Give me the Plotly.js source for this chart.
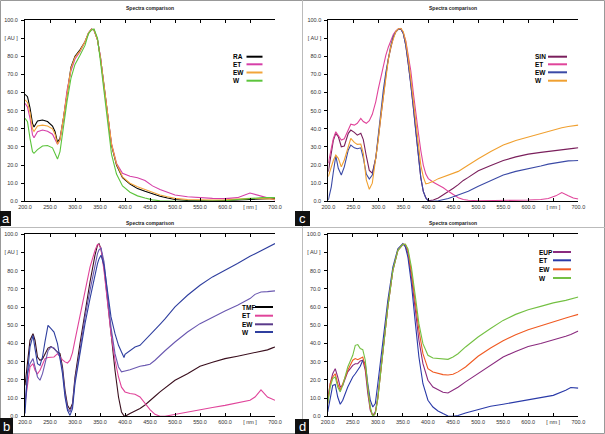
<!DOCTYPE html>
<html><head><meta charset="utf-8">
<script src="https://cdn.plot.ly/plotly-3.0.1.min.js"></script>
<style>html,body{margin:0;padding:0;background:#fff}#chart{width:605px;height:434px}</style>
</head><body><div id="chart"></div>
<script>
// ---------- data ----------
const aX=[200,205,210,215,218,225,235,245,255,260,265,270,277,284,292,300,310,320,327,333,338,345,351,358,365,373,383,395,410,425,440,455,470,485,500,525,550,575,600,625,650,675,700];
const aRA=[59,57.7,51.5,43,41,44.3,44.8,44,41.5,38.5,32.5,34.7,46,58,74,80,83.5,88,92.7,95,94.5,89,79,64,47.5,31,20,13,9.5,7,5.5,4,2.8,1.8,1,0.4,0.2,0.2,0.4,0.8,1.2,1.4,1.6];
const aET=[54,52,45.8,36.6,35.1,38.4,39.3,38.6,37,34,31.5,33.8,45.8,61,72,78.5,82.5,88,93,95,94.5,89,79.6,63,47,32,21,15.5,13.8,13,11.5,8.5,6.5,4.8,3.5,2.5,2,1.6,1.5,2,4.6,2.5,0.8];
const aEW=[56,54.5,49,40,38.5,41.5,42,41.5,40,37,31.5,34,46,60,73.5,79.5,83,88,92.8,95,94.5,89,79,64,47.5,31.5,20.5,13.5,10,8,6.5,5,3.5,2.5,1.6,1,0.7,0.7,0.8,1.2,1.6,1.5,1.2];
const aW=[45.8,43.9,34.7,27.4,26.5,28.5,30.5,30.8,29.5,26.5,23.3,27.4,42,55,68,75.5,80.5,86,92.5,94.5,95,90,77,60,43.5,26,15,8.5,5,3,1.8,0.8,0.3,0,0,0,0,0,0.3,1,1.5,2,2];

const cX=[200,206,210,215,220,226,232,240,245,252,258,265,270,276,282,288,295,300,305,310,315,320,325,330,335,340,345,350,355,360,365,370,375,380,385,390,395,400,410,420,430,440,450,460,470,480,500,525,550,575,600,625,640,655,667,680,690,700];
const cSIN=[16.4,28.3,33.5,37.5,35.7,30.1,30.5,37.5,39.3,38,36.5,37.5,34,25,17,15.5,24,35,47,58.5,69,78.5,85,90.5,93.5,95,95.2,92.6,86,76,65,52,39,25,13,5.5,2,0.3,0.7,1.8,3.5,5.2,7.2,9.2,11.5,13.2,16.8,19.8,22.5,24.5,26,27,27.6,28.1,28.5,28.9,29.2,29.5];
const cET=[21,30,34.5,38.4,36,33.8,34.5,40,42.5,42,43,45.7,44,43,44.5,48,55,62,68.5,75,80.5,85,89,92,94,95,95.2,93,88.5,81,72,60,48,38,28,20,15,12.5,10.5,9,7.5,5.5,3.5,2,1,0.6,0.3,0.3,0.4,0.5,0.7,1,1.5,3,4.8,3,1.8,1.3];
const cEW=[0.7,8,16,25,18.2,14.5,19,28.3,31,29.5,29,29.5,24,15,12.3,14.5,24,37.5,49.5,61.4,71,79.8,86,90.8,93.5,94.9,95,92.5,86,76,65,52,38.5,25,13,5.5,1.8,0.2,0,0.3,0.8,1.5,2.5,3.5,4.5,5.5,8.3,11.5,14.5,16.5,18.2,19.5,20.5,21.3,22,22.3,22.4,22.5];
const cW=[13.6,19.5,22.5,25.5,23.7,19,22.8,30.1,34.7,32.5,31.4,31.6,26.5,11.8,6.6,10,22.8,34,46.7,58,68.8,78,85.3,90,93.6,95,95.4,93.5,88,79,68.8,56,44,30.1,20,13.5,9.6,10,11,12.5,13.5,14.5,15.5,16.5,18.2,20,23.5,27.5,31,33.5,35.5,37.5,38.7,39.8,40.6,41.3,41.7,42];

const bX=[200,205,210,216,220,225,230,235,240,246,252,258,265,270,275,280,285,290,295,300,310,320,330,340,345,348,352,358,365,372,380,387,393,398,400,410,420,430,440,450,460,470,480,500,525,550,575,600,625,650,660,672,685,695,700];
const bTMF=[17,30.8,41.8,45.4,41.8,32.6,30.8,31.5,34,37.5,38.3,37.2,35.3,34.4,27.1,14.3,6,3.7,7,21.6,39.9,58.2,73.8,88.5,94,94.8,92,82,63.7,45.4,25.3,10.6,2.4,0.3,0,1.5,2.7,4.3,6.2,8.8,11,13.4,15.6,19.8,23.4,27.5,29.7,31.7,33,34.4,35,35.6,36.5,37.6,38.1];
const bET=[7,17.9,27.1,28.9,25.3,23.4,25.3,28.5,31.7,32.3,32.6,32.6,34.4,32.6,31,29.9,29.3,30.8,35,41.8,54.6,69.2,82,91.2,94.5,94.3,92,80,63.7,45.4,30.8,21.6,16,14,13.4,12.5,12.1,10.6,7,3.7,1.1,0,0,1.1,2.4,3.7,4.8,6,7.3,8.8,10.6,14.5,10.6,9.2,8.8];
const bEW=[7,23.4,28.9,31.7,27.1,21.6,19.8,23.4,29,36,38.1,37.5,35,32.6,25.3,12.5,4.2,2.4,6,19.8,36.3,54.6,69.2,83.9,89.4,91.5,92.5,85,67.4,49,34.4,27.1,24.4,24.5,24.9,25.6,26.7,27.5,28,28.6,30.8,33.5,36,40.8,46.3,50.9,54.6,57.9,61,64.7,67,68.3,68.5,68.8,68.9];
const bW=[1.5,23.4,38.1,44.5,37.2,28.9,28,32.6,41,50,48.2,46.3,39.9,32.6,23.4,10.6,3.3,0.5,4.2,17.9,34.4,50.9,64.7,78.4,83.9,86.5,88.5,83,69.2,54.6,45.4,39,35.3,32.3,34,36.3,38.1,39,41.8,44.5,47.3,50.5,53.5,60.1,66.5,72,76.6,80.2,83.9,87.9,89.3,91,93,94.3,94.9];

const dX=[200,205,210,215,220,225,230,240,250,255,260,265,270,275,280,285,290,295,300,310,320,330,340,350,355,360,367,375,382,390,400,410,420,430,440,450,460,475,500,525,550,575,600,625,650,675,685,700];
const dEUP=[9.7,17.9,23.4,26.2,21.6,16.1,17,24.4,28,28.9,28.9,30.4,30.8,25.3,12.5,3.3,0.4,2.4,10.6,34.4,60.1,80.2,91.2,94.5,94,89.4,76.6,58.2,41.8,28.9,19.8,16.1,14.7,13.2,12.8,14.2,16,18.9,23.4,28,32.6,35.6,38.3,40,41.8,44,45,46.8];
const dET=[2.4,10.6,17,17.5,10.6,6.6,8.8,16.1,21.6,23.4,25.3,27.5,30.8,28.9,17.9,8.8,5.1,7,17.9,39.9,63.7,82,92.1,94.9,93,87.5,72.9,50.9,32.6,17.9,8.8,5.1,2.9,1.5,0.2,0,0.4,1.8,3.7,5.5,6.6,7.9,8.8,10.1,11.5,14.3,15.8,15.5];
const dEW=[7,17.9,21.6,23.4,17.9,14.3,17.9,25.3,30.8,31.7,31.1,31.7,32.6,27.1,14.3,4.2,0,1.5,9.7,34.4,60.1,80.2,91.2,94.5,94.5,91.2,79.3,61.9,47.3,34.4,26.2,24.3,23.4,22.9,22.7,23.1,24.4,27.1,33,37.5,41.5,44.8,47.5,49.8,52,54,54.8,56];
const dW=[7,16.1,20.7,21.6,16.1,13.4,17,27.1,33.5,39,39.4,37.2,36.6,30.8,16.1,5.1,0,1.5,9.7,34.4,60.1,80.2,91.2,94.5,94.5,92.1,82,65.6,50.9,39.9,33.5,32,31.7,31.7,31.3,32.6,34.4,38.1,43.6,48.2,52.7,56,58.6,60.4,62.3,63.7,64.3,65.6];

const yTickVals=[0,10,20,30,40,50,60,70,80,90,100];
const yTickText=['0.0','10.0','20.0','30.0','40.0','50.0','60.0','70.0','80.0','[ AU ]','100.0'];
const xTickVals=[200,250,300,350,400,450,500,550,600,650,700];
const xTickText=['200.0','250.0','300.0','350.0','400.0','450.0','500.0','550.0','600.0','[ nm ]','700.0'];
const titleText='Spectra comparison';

// ---------- layout ----------
const W=605,H=434;
const px=v=>v/W, py=v=>1-v/H;
const panels=[
 {label:'a',x:aX,names:['RA','ET','EW','W'],ys:[aRA,aET,aEW,aW],colors:['#000000','#d63fa8','#f2a53a','#5cc43c'],lcol:null,
  xr:[25,275],yr:[20,201.3],titleY:8,lg:{tx:231,l0:246.5,l1:262.5,rows:[56.7,64.3,72.5,80.7]},box:[0,11,211,226]},
 {label:'c',x:cX,names:['SIN','ET','EW','W'],ys:[cSIN,cET,cEW,cW],colors:['#7a1f5c','#e0449a','#3b4aa6','#f0a030'],lcol:null,
  xr:[328.3,578.3],yr:[20,201.3],titleY:8,lg:{tx:533,l0:548,l1:567,rows:[56.7,64.3,72.3,80.7]},box:[295,310,211,226]},
 {label:'b',x:bX,names:['TMF','ET','EW','W'],ys:[bTMF,bET,bEW,bW],colors:['#3a0f1e','#e0449a','#6a58b0','#2f3f9f'],lcol:['#000000','#e0449a','#5a3a8a','#2f3f9f'],
  xr:[25,275],yr:[234.3,416.3],titleY:223,lg:{tx:239.5,l0:255,l1:273,rows:[307,315.7,324.3,332]},box:[0,13,418,434]},
 {label:'d',x:dX,names:['EUP','ET','EW','W'],ys:[dEUP,dET,dEW,dW],colors:['#8a2a7e','#2a3aa8','#f05a22','#74c043'],lcol:null,
  xr:[327.7,578.3],yr:[234.3,416.3],titleY:223,lg:{tx:536.5,l0:553,l1:571,rows:[252,260.3,269.3,278]},box:[295,309,419,434]}
];

const tickFont={family:'Liberation Sans, Arial, sans-serif',size:5.5,color:'#333'};
const traces=[], shapes=[], annotations=[];
const layout={width:W,height:H,margin:{l:0,r:0,t:0,b:0},paper_bgcolor:'#fff',plot_bgcolor:'#fff',showlegend:false,font:tickFont};

panels.forEach((p,i)=>{
  const xi=i+1, yl=i+1, yrr=i+5;
  const xn=xi===1?'x':'x'+xi, yn=yl===1?'y':'y'+yl;
  const xk=xi===1?'xaxis':'xaxis'+xi, yk=yl===1?'yaxis':'yaxis'+yl, yrk='yaxis'+yrr;
  layout[xk]={domain:[px(p.xr[0]),px(p.xr[1])],range:[200,700],anchor:yn,showgrid:false,zeroline:false,
    showline:true,linecolor:'#000',linewidth:1,mirror:'ticks',ticks:'inside',ticklen:3,tickcolor:'#000',
    tickvals:xTickVals,ticktext:xTickText,tickfont:tickFont,fixedrange:true};
  layout[yk]={domain:[py(p.yr[1]),py(p.yr[0])],range:[0,100],anchor:xn,showgrid:false,zeroline:false,
    showline:true,linecolor:'#000',linewidth:1,ticks:'outside',ticklen:3,tickcolor:'#000',
    tickvals:yTickVals,ticktext:yTickText,tickfont:tickFont,ticklabelstandoff:2,fixedrange:true};
  layout[yrk]={overlaying:yn,side:'right',anchor:xn,range:[0,100],showgrid:false,zeroline:false,
    showline:true,linecolor:'#000',linewidth:1,ticks:'outside',ticklen:3,tickcolor:'#000',
    tickvals:yTickVals,ticktext:yTickText,tickfont:tickFont,ticklabelstandoff:2,fixedrange:true};
  p.ys.forEach((ys,k)=>{
    traces.push({type:'scatter',mode:'lines',x:p.x,y:ys,xaxis:xn,yaxis:yn,name:p.names[k],
      line:{color:p.colors[k],width:1.1},hoverinfo:'skip'});
  });
  p.names.forEach((nm,k)=>{
    const ry=p.lg.rows[k];
    annotations.push({xref:'paper',yref:'paper',x:px(p.lg.tx),y:py(ry),xanchor:'left',yanchor:'middle',
      text:'<b>'+nm+'</b>',showarrow:false,font:{family:'Liberation Sans, Arial, sans-serif',size:6.5,color:'#000'}});
    shapes.push({type:'line',xref:'paper',yref:'paper',x0:px(p.lg.l0),x1:px(p.lg.l1),y0:py(ry),y1:py(ry),
      line:{color:(p.lcol||p.colors)[k],width:2}});
  });
  annotations.push({xref:'paper',yref:'paper',x:px((p.xr[0]+p.xr[1])/2),y:py(p.titleY),xanchor:'center',yanchor:'middle',
    text:'<b>'+titleText+'</b>',showarrow:false,font:{family:'Liberation Sans, Arial, sans-serif',size:5,color:'#222'}});
  const b=p.box;
  shapes.push({type:'rect',xref:'paper',yref:'paper',x0:px(b[0]),x1:px(b[1]),y0:py(b[3]),y1:py(b[2]),
    fillcolor:'#111',line:{width:0},layer:'above'});
  annotations.push({xref:'paper',yref:'paper',x:px((b[0]+b[1])/2),y:py((b[2]+b[3])/2),xanchor:'center',yanchor:'middle',
    text:p.label,showarrow:false,font:{family:'Liberation Sans, Arial, sans-serif',size:13,color:'#fff'}});
});
shapes.push({type:'rect',xref:'paper',yref:'paper',x0:px(0.5),x1:px(604.5),y0:py(433.5),y1:py(0.5),line:{color:'#999',width:1},layer:'below'});
shapes.push({type:'line',xref:'paper',yref:'paper',x0:px(302.5),x1:px(302.5),y0:0,y1:1,line:{color:'#bbb',width:1},layer:'below'});
shapes.push({type:'line',xref:'paper',yref:'paper',x0:0,x1:1,y0:py(227.5),y1:py(227.5),line:{color:'#bbb',width:1},layer:'below'});
layout.shapes=shapes; layout.annotations=annotations;

Plotly.newPlot('chart',traces,layout,{staticPlot:true,displayModeBar:false});
</script></body></html>
